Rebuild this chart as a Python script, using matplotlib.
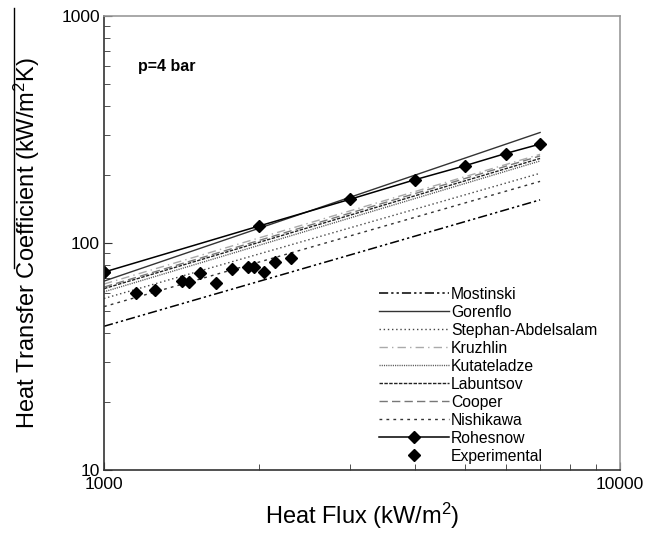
import matplotlib
matplotlib.use("Agg")
import matplotlib.pyplot as plt
from matplotlib.lines import Line2D
from matplotlib.ticker import LogLocator, NullFormatter, FixedLocator, FixedFormatter

plt.rcParams['font.family'] = ['Liberation Sans', 'DejaVu Sans']
plt.rcParams['mathtext.fontset'] = 'custom'
plt.rcParams['mathtext.rm'] = 'Liberation Sans'
plt.rcParams['mathtext.default'] = 'regular'

# correlations: value at q = 1000 and q = 7000 kW/m2 (straight lines on log-log)
q_model = [1000, 7000]
mostinski = [43, 155]
gorenflo = [68, 307]
stephan = [57, 203]
kruzhlin = [66, 246]
kutateladze = [61, 230]
labuntsov = [63, 236]
cooper = [64, 242]
nishikawa = [52.5, 187]

q_rohsenow = [1000, 2000, 3000, 4000, 5000, 6000, 7000]
h_rohsenow = [74.5, 119, 156, 190, 219, 248, 273]

q_exp = [1000, 1152, 1256, 1419, 1461, 1535, 1646, 1768, 1898, 1956, 2042, 2145, 2304]
h_exp = [74.5, 60.4, 62.1, 68.2, 67.1, 74.0, 66.4, 76.6, 78.2, 78.2, 74.3, 82.2, 85.6]

fig = plt.figure(figsize=(6.6, 5.36), dpi=100)
ax = fig.add_axes([0.1576, 0.123, 0.7818, 0.847])

ax.plot(q_model, mostinski, color='black', lw=1.1, dashes=(6, 2, 1.5, 2, 1.5, 2), label='Mostinski')
ax.plot(q_model, gorenflo, color='#333333', lw=1.0, label='Gorenflo')
ax.plot(q_model, stephan, color='#444444', lw=1.0, linestyle=(0, (1, 2)), label='Stephan-Abdelsalam')
ax.plot(q_model, kruzhlin, color='#aaaaaa', lw=1.0, dashes=(6, 3, 1, 3), label='Kruzhlin')
ax.plot(q_model, kutateladze, color='#555555', lw=1.0, linestyle=(0, (0.8, 0.8)), label='Kutateladze')
ax.plot(q_model, labuntsov, color='#222222', lw=1.0, dashes=(2.5, 1), label='Labuntsov')
ax.plot(q_model, cooper, color='#777777', lw=1.0, dashes=(6, 3), label='Cooper')
ax.plot(q_model, nishikawa, color='#333333', lw=1.0, dashes=(2, 3), label='Nishikawa')
ax.plot(q_rohsenow, h_rohsenow, color='black', lw=1.1, marker='D', ms=6.5, label='Rohesnow')
ax.plot(q_exp, h_exp, linestyle='none', color='black', marker='D', ms=6.5, label='Experimental')

ax.set_xscale('log')
ax.set_yscale('log')
ax.set_xlim(1000, 10000)
ax.set_ylim(10, 1000)

ax.xaxis.set_major_locator(FixedLocator([1000, 10000]))
ax.xaxis.set_major_formatter(FixedFormatter(['1000', '10000']))
ax.yaxis.set_major_locator(FixedLocator([10, 100, 1000]))
ax.yaxis.set_major_formatter(FixedFormatter(['10', '100', '1000']))
ax.xaxis.set_minor_locator(LogLocator(base=10, subs=range(2, 10)))
ax.yaxis.set_minor_locator(LogLocator(base=10, subs=range(2, 10)))
ax.xaxis.set_minor_formatter(NullFormatter())
ax.yaxis.set_minor_formatter(NullFormatter())
ax.tick_params(which='both', direction='in', top=False, right=False, labelsize=12.5,
               color='#333333')
ax.tick_params(which='major', length=6, pad=3)
ax.tick_params(axis='x', which='major', pad=5)
ax.tick_params(which='minor', length=4)

for s in ['left', 'bottom']:
    ax.spines[s].set_color('#333333')
    ax.spines[s].set_linewidth(1.2)
for s in ['top', 'right']:
    ax.spines[s].set_color('#999999')
    ax.spines[s].set_linewidth(1.2)

ax.set_xlabel('Heat Flux (kW/m$^2$)', fontsize=17, labelpad=6)
ax.set_ylabel('Heat Transfer Coefficient (kW/m$^2$K)', fontsize=17, labelpad=14)

ax.text(0.065, 0.88, 'p=4 bar', transform=ax.transAxes, fontsize=11.5, fontweight='bold')

leg = ax.legend(loc='lower left', bbox_to_anchor=(0.52, 0.0), frameon=False, fontsize=11.3,
                handlelength=4.5, handletextpad=0.1, labelspacing=0.19, borderaxespad=0)

# vertical rule left of the y label in the original
fig.add_artist(Line2D([0.021, 0.021], [0.50, 0.985], color='black', lw=1.0))

fig.savefig('out.png', dpi=100)
